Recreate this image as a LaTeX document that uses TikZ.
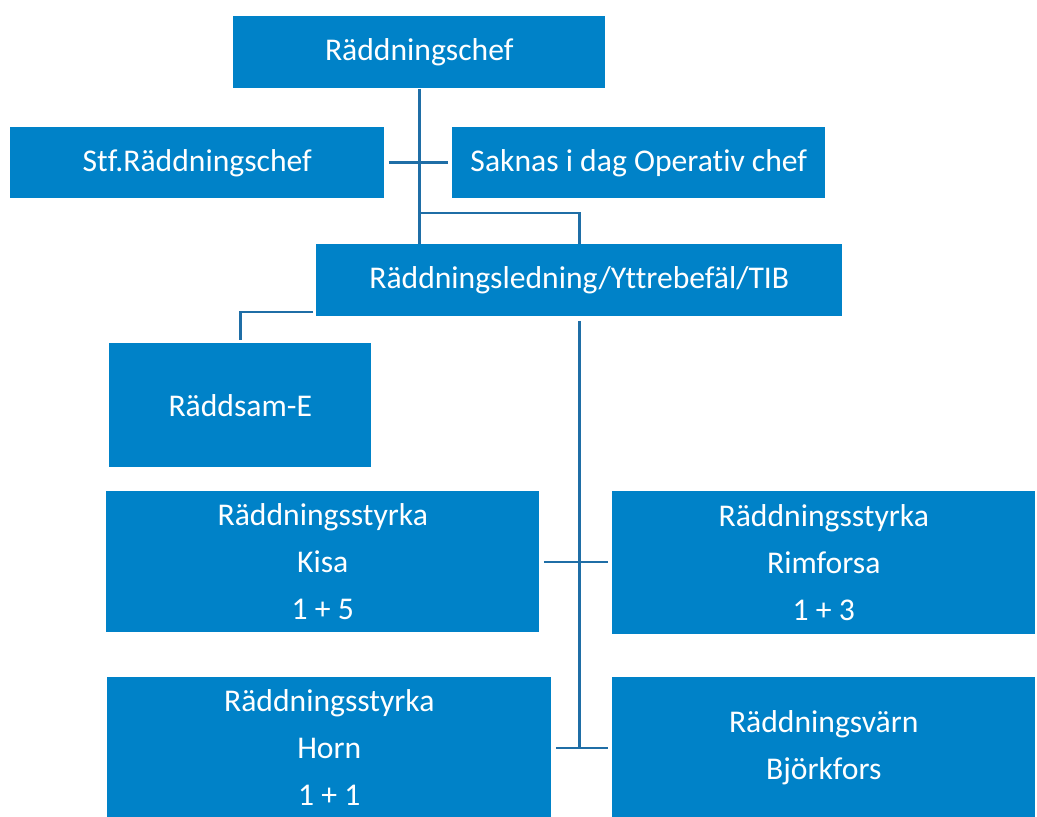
\documentclass[tikz,border=0pt]{standalone}
\usepackage{fontspec}
\setmainfont[Ligatures=NoCommon]{Carlito}
\usetikzlibrary{positioning}
\definecolor{boxblue}{HTML}{0082C8}
\definecolor{lineblue}{HTML}{1F6EA6}

\begin{document}
\begin{tikzpicture}[x=0.025cm, y=-0.025cm,
    box/.style={fill=boxblue, text=white, inner sep=0pt, align=center,
        font=\fontsize{22.5}{33.5}\selectfont, anchor=north west},
    link/.style={draw=lineblue, line width=2.1pt}]
    \useasboundingbox (0,0) rectangle (1037,816);

    % boxes
    \node[box, minimum width=372*0.025cm, minimum height=72*0.025cm] (chef) at (233,16) {Räddningschef};
    \node[box, minimum width=374*0.025cm, minimum height=71*0.025cm] (stf) at (10,127) {Stf.Räddningschef};
    \node[box, minimum width=373*0.025cm, minimum height=71*0.025cm] (saknas) at (452,127) {Saknas i dag Operativ chef};
    \node[box, minimum width=526*0.025cm, minimum height=72*0.025cm] (ledning) at (316,244) {Räddningsledning/Yttrebefäl/TIB};
    \node[box, minimum width=262*0.025cm, minimum height=124*0.025cm] (raddsam) at (109,343) {Räddsam-E};
    \node[box, minimum width=433*0.025cm, minimum height=141*0.025cm] (kisa) at (106,491) {Räddningsstyrka\\Kisa\\1 + 5};
    \node[box, minimum width=423*0.025cm, minimum height=143*0.025cm] (rimforsa) at (612,491) {Räddningsstyrka\\Rimforsa\\1 + 3};
    \node[box, minimum width=444*0.025cm, minimum height=140*0.025cm] (horn) at (107,677) {Räddningsstyrka\\Horn\\1 + 1};
    \node[box, minimum width=423*0.025cm, minimum height=140*0.025cm] (bjork) at (612,677) {Räddningsvärn\\Björkfors};

    % connectors
    \coordinate (split) at (419,213);
    \coordinate (side) at (313,312);
    \draw[link] (chef.south) -- (chef.south |- ledning.north);
    \draw[link, shorten <=3pt, shorten >=3pt] (stf.east) -- (saknas.west);
    \draw[link] (split) -| (ledning.north);
    \draw[link, shorten >=2pt] (side) -| (raddsam.north);
    \draw[link, shorten <=3pt] (ledning.south) -- (ledning.south |- 0,748);
    \draw[link, shorten <=3pt, shorten >=3pt] (kisa.east |- 0,562) -- (rimforsa.west |- 0,562);
    \draw[link, shorten <=3pt, shorten >=3pt] (horn.east |- 0,748) -- (bjork.west |- 0,748);
\end{tikzpicture}
\end{document}
